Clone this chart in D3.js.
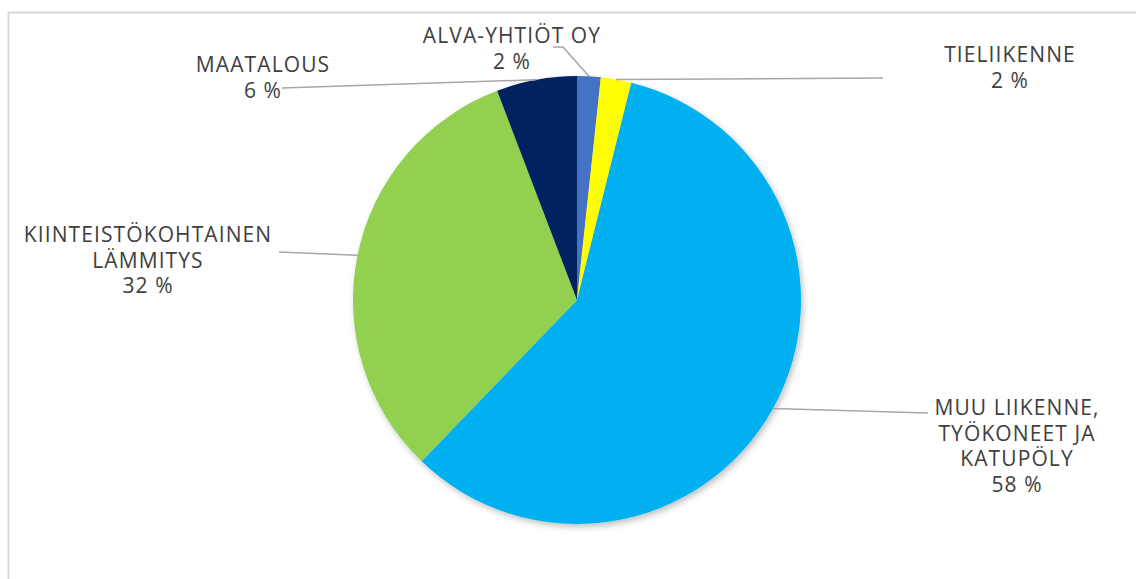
<!DOCTYPE html>
<html>
<head>
<meta charset="utf-8">
<script src="https://cdn.jsdelivr.net/npm/d3@7"></script>
<style>
  html, body { margin: 0; padding: 0; background: #fff; }
  svg { display: block; }
</style>
</head>
<body>
<svg id="chart" width="1136" height="579"></svg>
<script>
// ---- data ----
const categories = ["ALVA-YHTIÖT OY", "TIELIIKENNE", "MUU LIIKENNE, TYÖKONEET JA KATUPÖLY", "KIINTEISTÖKOHTAINEN LÄMMITYS", "MAATALOUS"];
const labelLines = [
  ["ALVA-YHTIÖT OY"],
  ["TIELIIKENNE"],
  ["MUU LIIKENNE,", "TYÖKONEET JA", "KATUPÖLY"],
  ["KIINTEISTÖKOHTAINEN", "LÄMMITYS"],
  ["MAATALOUS"]
];
const values = [1.7, 2.2, 58.3, 32.0, 5.8];
const percentLabels = ["2 %", "2 %", "58 %", "32 %", "6 %"];
const colors = ["#4472C4", "#FFFF00", "#00B0F0", "#92D050", "#002060"];

// ---- layout ----
const W = 1136, H = 579;
const cx = 577, cy = 300, R = 224;
// label placement: text centre x, first baseline y, leader end points
const labelLayout = [
  { x: 512, y: 43, line: [[563, 47], [553, 47]] },
  { x: 1010, y: 62, line: [[883, 78]] },
  { x: 1017, y: 415, line: [[928, 413]] },
  { x: 148, y: 242, line: [[279, 252]] },
  { x: 263, y: 72, line: [[282, 88]] }
];
const lineH = 25.5;

const svg = d3.select("#chart");

// border frame
svg.append("rect")
  .attr("x", 8.5).attr("y", 12.5)
  .attr("width", W + 20).attr("height", H + 20)
  .attr("fill", "#fff")
  .attr("stroke", "#d9d9d9").attr("stroke-width", 2);

const defs = svg.append("defs");
const f = defs.append("filter").attr("id", "shadow")
  .attr("x", "-20%").attr("y", "-20%").attr("width", "140%").attr("height", "140%");
f.append("feDropShadow").attr("dx", 2).attr("dy", 3).attr("stdDeviation", 3)
  .attr("flood-color", "#000").attr("flood-opacity", 0.25);

const pie = d3.pie().sort(null).value(d => d)(values);
const arc = d3.arc().innerRadius(0).outerRadius(R);

const g = svg.append("g").attr("transform", `translate(${cx},${cy})`);
g.append("g").attr("filter", "url(#shadow)")
  .selectAll("path").data(pie).join("path")
  .attr("d", arc)
  .attr("fill", (d, i) => colors[i]);

// leader lines
const line = d3.line();
pie.forEach((d, i) => {
  const a = (d.startAngle + d.endAngle) / 2;
  const p0 = [cx + R * Math.sin(a), cy - R * Math.cos(a)];
  const pts = [p0, ...labelLayout[i].line];
  svg.append("path")
    .attr("d", line(pts))
    .attr("fill", "none")
    .attr("stroke", "#a6a6a6")
    .attr("stroke-width", 1.5);
});

// labels
pie.forEach((d, i) => {
  const L = labelLayout[i];
  const lines = labelLines[i].concat([percentLabels[i]]);
  const t = svg.append("text")
    .attr("text-anchor", "middle")
    .attr("font-family", "'Open Sans', sans-serif")
    .attr("font-size", 21)
    .attr("letter-spacing", 1.1)
    .attr("fill", "#404040");
  lines.forEach((s, j) => {
    t.append("tspan").attr("x", L.x).attr("y", L.y + j * lineH).text(s);
  });
});
</script>
</body>
</html>
